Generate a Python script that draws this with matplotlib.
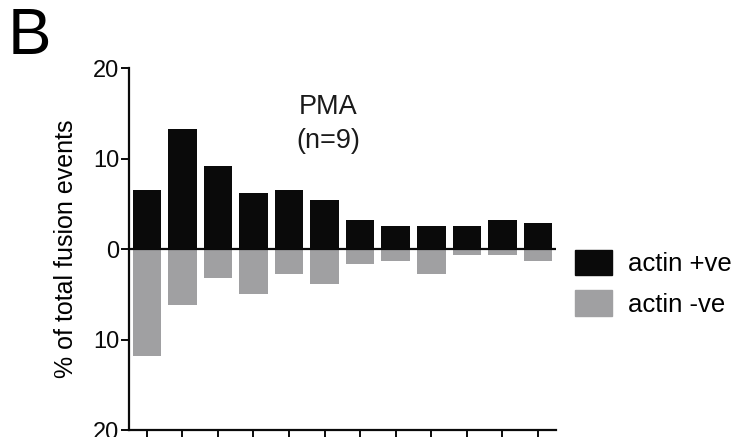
import numpy as np
import matplotlib.pyplot as plt
from matplotlib.patches import Patch

plt.rcParams['font.family'] = ['Liberation Sans', 'DejaVu Sans']

# % of total fusion events per bin, PMA (n=9)
bins = np.arange(12)
actin_pos = [6.5, 13.3, 9.2, 6.2, 6.5, 5.4, 3.2, 2.5, 2.5, 2.5, 3.2, 2.9]
actin_neg = [11.8, 6.2, 3.2, 5.0, 2.8, 3.9, 1.7, 1.3, 2.8, 0.6, 0.6, 1.3]
ytick_vals = [-20, -10, 0, 10, 20]
ytick_labels = ['20', '10', '0', '10', '20']

black = '#0a0a0a'
grey = '#a0a0a2'

fig = plt.figure(figsize=(7.5, 4.37), dpi=100)
ax = fig.add_axes([0.172, 0.016, 0.569, 0.828])

ax.bar(bins, actin_pos, width=0.8, color=black, label='actin +ve')
ax.bar(bins, -np.array(actin_neg), width=0.8, color=grey, label='actin -ve')
ax.axhline(0, color=black, lw=1.6, zorder=3)

ax.set_xlim(-0.5, 11.5)
ax.set_ylim(-20, 20)
ax.set_yticks(ytick_vals)
ax.set_yticklabels(ytick_labels)
ax.set_xticks(bins)
ax.set_xticklabels([])

for s in ['top', 'right']:
    ax.spines[s].set_visible(False)
for s in ['left', 'bottom']:
    ax.spines[s].set_linewidth(1.6)
    ax.spines[s].set_color(black)
ax.tick_params(axis='both', direction='out', length=6, width=1.4,
               colors=black, labelsize=17, pad=1)

ax.set_ylabel('% of total fusion events', fontsize=18, labelpad=11)

ax.text(5.1, 13.8, 'PMA\n(n=9)', ha='center', va='center', fontsize=19.5,
        linespacing=1.4, color='#1a1a1a')

fig.text(0.01, 0.985, 'B', fontsize=47, va='top', ha='left')

handles = [Patch(color=black, label='actin +ve'), Patch(color=grey, label='actin -ve')]
fig.legend(handles=handles, loc='center left', bbox_to_anchor=(0.766, 0.352),
           frameon=False, fontsize=18.5, handlelength=1.45, handleheight=1.15,
           handletextpad=0.65, labelspacing=0.55, borderpad=0, borderaxespad=0)

fig.savefig('out.png', dpi=100)
